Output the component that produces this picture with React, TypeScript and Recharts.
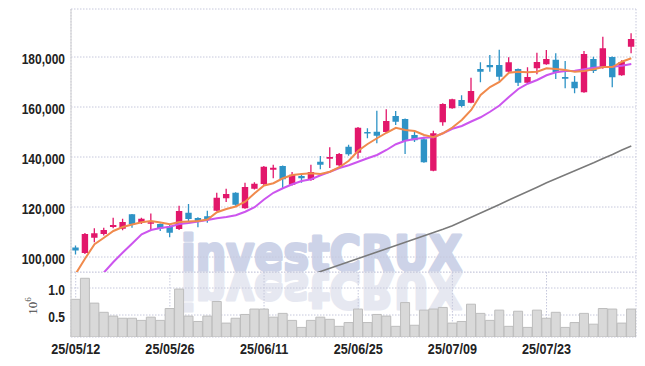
import { ComposedChart, Bar, Line, XAxis, YAxis, CartesianGrid } from 'recharts';

const dates = [
  '25/05/12', '25/05/13', '25/05/14', '25/05/15', '25/05/16', '25/05/19', '25/05/20', '25/05/21', '25/05/22', '25/05/23',
  '25/05/26', '25/05/27', '25/05/28', '25/05/29', '25/05/30', '25/06/02', '25/06/04', '25/06/05', '25/06/09', '25/06/10',
  '25/06/11', '25/06/12', '25/06/13', '25/06/16', '25/06/17', '25/06/18', '25/06/19', '25/06/20', '25/06/23', '25/06/24',
  '25/06/25', '25/06/26', '25/06/27', '25/06/30', '25/07/01', '25/07/02', '25/07/03', '25/07/04', '25/07/07', '25/07/08',
  '25/07/09', '25/07/10', '25/07/11', '25/07/14', '25/07/15', '25/07/16', '25/07/17', '25/07/18', '25/07/21', '25/07/22',
  '25/07/23', '25/07/24', '25/07/25', '25/07/28', '25/07/29', '25/07/30', '25/07/31', '25/08/01', '25/08/04', '25/08/05',
];

const opens = [
  103800, 101600, 107700, 109200, 112000, 111300, 117100, 113900, 113500, 113200,
  112100, 111200, 117700, 115600, 116300, 118500, 123500, 125700, 119500, 127300,
  129200, 134900, 136400, 128900, 132400, 130800, 138100, 139300, 136700, 144100,
  141700, 150000, 150100, 150000, 156400, 155200, 148800, 147100, 134500, 153900,
  159500, 162800, 161700, 175200, 176800, 176800, 174100, 175200, 169700, 175500,
  177100, 178900, 172000, 170100, 165900, 179200, 175700, 180000, 172700, 184100,
];
const highs = [
  104600, 109600, 111500, 111700, 115700, 115300, 117200, 115700, 117400, 113400,
  113200, 120500, 121200, 115900, 118500, 125700, 127300, 125900, 129700, 129900,
  136400, 136900, 136600, 134000, 133500, 136900, 140400, 143900, 141600, 144900,
  152000, 151500, 158500, 159100, 158400, 155400, 150100, 148100, 150500, 161500,
  163300, 164700, 171700, 177900, 180800, 182900, 179900, 175400, 175900, 181700,
  182800, 181500, 178400, 172400, 182400, 180100, 188100, 180200, 178700, 189500,
];
const lows = [
  101000, 101200, 105900, 108600, 111500, 110700, 111700, 113200, 110700, 110400,
  107900, 110800, 114400, 111900, 113700, 118300, 122000, 120500, 119300, 127000,
  128800, 131500, 127500, 128600, 129700, 130500, 135100, 135600, 136300, 140500,
  139300, 147500, 145500, 149700, 152800, 141200, 146000, 137700, 134300, 152500,
  159300, 159900, 161500, 169900, 174100, 170500, 173900, 168400, 169500, 173100,
  176900, 171200, 167500, 165500, 165700, 173600, 175300, 167900, 172500, 181500,
];
const closes = [
  102600, 109200, 109500, 110800, 112800, 114000, 113100, 115300, 113900, 111400,
  109700, 118400, 115200, 114300, 115200, 123700, 125200, 120900, 128000, 129300,
  136100, 135700, 131100, 132900, 131500, 134000, 136900, 140000, 141200, 141100,
  151700, 149700, 148500, 154400, 154100, 146400, 146700, 137900, 149500, 161200,
  163100, 160400, 166400, 174100, 175900, 172100, 177900, 169700, 172000, 178000,
  179200, 173900, 171300, 167500, 181200, 174400, 183500, 171900, 178000, 187200,
];

const ma5 = [
  93300, 99400, 105100, 107700, 110400, 112000, 113000, 113900, 114400, 113800,
  113100, 114000, 114200, 114400, 115000, 117900, 119200, 120200, 122100, 125500,
  128600, 129500, 131500, 132800, 133200, 133500, 133200, 134100, 135900, 138500,
  142500, 145200, 147500, 149700, 151700, 150800, 150400, 148800, 147900, 149500,
  151800, 154800, 158800, 164800, 168000, 170000, 173700, 174100, 173900, 174100,
  175500, 175200, 174800, 174100, 174400, 175100, 176000, 176000, 178100, 179500,
];
const ma20 = [
  null, null, null, 93800, 98000, 101800, 105400, 109100, 110800, 111600,
  112100, 113200, 113600, 114200, 114800, 115500, 116000, 116700, 118100, 119900,
  123000, 125700, 127500, 129100, 130400, 131100, 132700, 134100, 135600, 136700,
  138100, 139500, 140800, 142800, 145100, 146500, 147200, 147700, 147900, 149500,
  151300, 152400, 154200, 155900, 158100, 160600, 164000, 167200, 169300, 170800,
  172700, 173900, 174400, 174500, 175100, 175700, 176000, 176100, 176500, 177200,
];
const ma60 = [
  null, null, null, null, null, null, null, null, null, null,
  null, null, null, null, null, null, null, null, null, null,
  null, null, null, null, 91500, 92800, 94200, 95500, 96800, 98100,
  99400, 100700, 102000, 103300, 104600, 105900, 107200, 108500, 109800, 111100,
  112500, 114200, 115900, 117600, 119300, 121000, 122800, 124500, 126200, 127900,
  129700, 131300, 132900, 134500, 136100, 137700, 139400, 141000, 142800, 144400,
];

const volumes = [
  790000, 1180000, 720000, 550000, 480000, 440000, 440000, 400000, 460000, 400000,
  620000, 980000, 480000, 380000, 480000, 750000, 350000, 440000, 510000, 610000,
  610000, 460000, 530000, 400000, 270000, 400000, 460000, 420000, 290000, 360000,
  610000, 360000, 510000, 480000, 290000, 730000, 310000, 590000, 610000, 640000,
  350000, 380000, 700000, 530000, 400000, 590000, 290000, 570000, 270000, 590000,
  440000, 550000, 270000, 360000, 530000, 330000, 620000, 610000, 350000, 610000,
];

const tickDates = ['25/05/12', '25/05/26', '25/06/11', '25/06/25', '25/07/09', '25/07/23'];
const priceTicks = [100000, 120000, 140000, 160000, 180000];
const volumeTicks = [500000, 1000000];

const rows = dates.map((date, i) => ({
  date,
  open: opens[i],
  high: highs[i],
  low: lows[i],
  close: closes[i],
  range: [lows[i], highs[i]],
  ma5: ma5[i],
  ma20: ma20[i],
  ma60: ma60[i],
  volume: volumes[i],
}));

const RED = '#e2176b';
const BLUE = '#2e93c6';
const GRID = '#c6c8dc';
const BORDER = '#cfcfcf';
const FONT = "'Liberation Sans', Arial, sans-serif";
const MARK_FONT = "'DejaVu Sans', sans-serif";

const Candle = (props: any) => {
  const { x, y, width, height, payload } = props;
  if (!payload) return null;
  const { open, close, high, low } = payload;
  const top = Math.min(y, y + height);
  const h = Math.abs(height);
  const k = high > low ? h / (high - low) : 0;
  const py = (v: number) => top + (high - v) * k;
  const color = close >= open ? RED : BLUE;
  const cx = x + width / 2;
  const bw = 6.4;
  const bTop = py(Math.max(open, close));
  const bh = Math.max(py(Math.min(open, close)) - bTop, 1.5);
  return (
    <g>
      <line x1={cx} x2={cx} y1={top} y2={top + h} stroke={color} strokeWidth={1.3} />
      <rect x={cx - bw / 2} y={bTop} width={bw} height={bh} fill={color} />
    </g>
  );
};

// narrow-ish bold labels: no condensed face installed, so squeeze horizontally
const YTick = (fmt: (v: number) => string) => (props: any) => {
  const { x, y, payload } = props;
  return (
    <text transform={`translate(${x + 2},${y + 7}) scale(0.8,1)`} textAnchor="end" fontFamily={FONT}
      fontWeight={700} fontSize={15} fill="#222">
      {fmt(payload.value)}
    </text>
  );
};

const XTick = (props: any) => {
  const { x, y, payload } = props;
  return (
    <text transform={`translate(${x},${y + 9}) scale(0.84,1)`} textAnchor="middle" fontFamily={FONT}
      fontWeight={700} fontSize={15} fill="#222">
      {payload.value}
    </text>
  );
};

const Watermark = ({ fill }: { fill: string }) => (
  <text x={181} y={271} fontFamily={MARK_FONT} fontWeight={700} fontSize={49} fill={fill}
    stroke={fill} strokeWidth={3} strokeLinejoin="round" textLength={281} lengthAdjust="spacingAndGlyphs">
    investCRUX
  </text>
);

export default function App() {
  return (
    <div style={{ position: 'absolute', left: 0, top: 0, width: 645, height: 366, background: '#fff' }}>
      <svg width={645} height={366} style={{ position: 'absolute', left: 0, top: 0 }}>
        <Watermark fill="#cdd3e8" />
        <g transform="translate(0,544) scale(1,-1)">
          <Watermark fill="#e6e8f1" />
        </g>
        <text transform="rotate(-90)" x={-306} y={37} textAnchor="middle" fontFamily="'Liberation Serif', serif"
          fontSize={13} fill="#444">
          10<tspan dy={-6} fontSize={9}>6</tspan>
        </text>
      </svg>

      <div style={{ position: 'absolute', left: 0, top: 0 }}>
        <ComposedChart width={645} height={273} data={rows} margin={{ top: 9, right: 9, bottom: 1, left: 0 }} barCategoryGap={0}>
          <CartesianGrid stroke={GRID} strokeDasharray="1.5 1.5" />
          <XAxis dataKey="date" ticks={tickDates} interval={0} tick={false} tickLine={false}
            axisLine={{ stroke: BORDER }} height={0} />
          <XAxis xAxisId="top" orientation="top" dataKey="date" tick={false} tickLine={false}
            axisLine={{ stroke: BORDER }} height={0} />
          <YAxis domain={[94000, 199200]} allowDataOverflow ticks={priceTicks} width={71} tickLine={false}
            axisLine={{ stroke: BORDER }} tick={YTick((v) => v.toLocaleString('en-US'))} />
          <YAxis yAxisId="right" orientation="right" tick={false} tickLine={false}
            axisLine={{ stroke: BORDER }} width={0} />
          <Bar dataKey="range" shape={Candle} isAnimationActive={false} />
          <Line dataKey="ma60" type="linear" stroke="#7a7a7a" strokeWidth={1.5} dot={false} isAnimationActive={false} />
          <Line dataKey="ma20" type="linear" stroke="#cc55ee" strokeWidth={2} dot={false} isAnimationActive={false} />
          <Line dataKey="ma5" type="linear" stroke="#f08a4c" strokeWidth={2} dot={false} isAnimationActive={false} />
        </ComposedChart>
      </div>

      <div style={{ position: 'absolute', left: 0, top: 272 }}>
        <ComposedChart width={645} height={94} data={rows} margin={{ top: 0, right: 9, bottom: 0, left: 0 }} barCategoryGap={0}>
          <CartesianGrid stroke={GRID} strokeDasharray="1.5 1.5" />
          <XAxis dataKey="date" ticks={tickDates} interval={0} tickLine={false} axisLine={false}
            height={29} tick={XTick} />
          <YAxis domain={[92600, 1296300]} allowDataOverflow ticks={volumeTicks} width={71} tickLine={false}
            axisLine={{ stroke: BORDER }} tick={YTick((v) => (v / 1e6).toFixed(1))} />
          <YAxis yAxisId="right" orientation="right" tick={false} tickLine={false}
            axisLine={{ stroke: BORDER }} width={0} />
          <Bar dataKey="volume" fill="#d9d9d9" stroke="#bdbdbd" strokeWidth={1} isAnimationActive={false} />
        </ComposedChart>
      </div>
    </div>
  );
}
